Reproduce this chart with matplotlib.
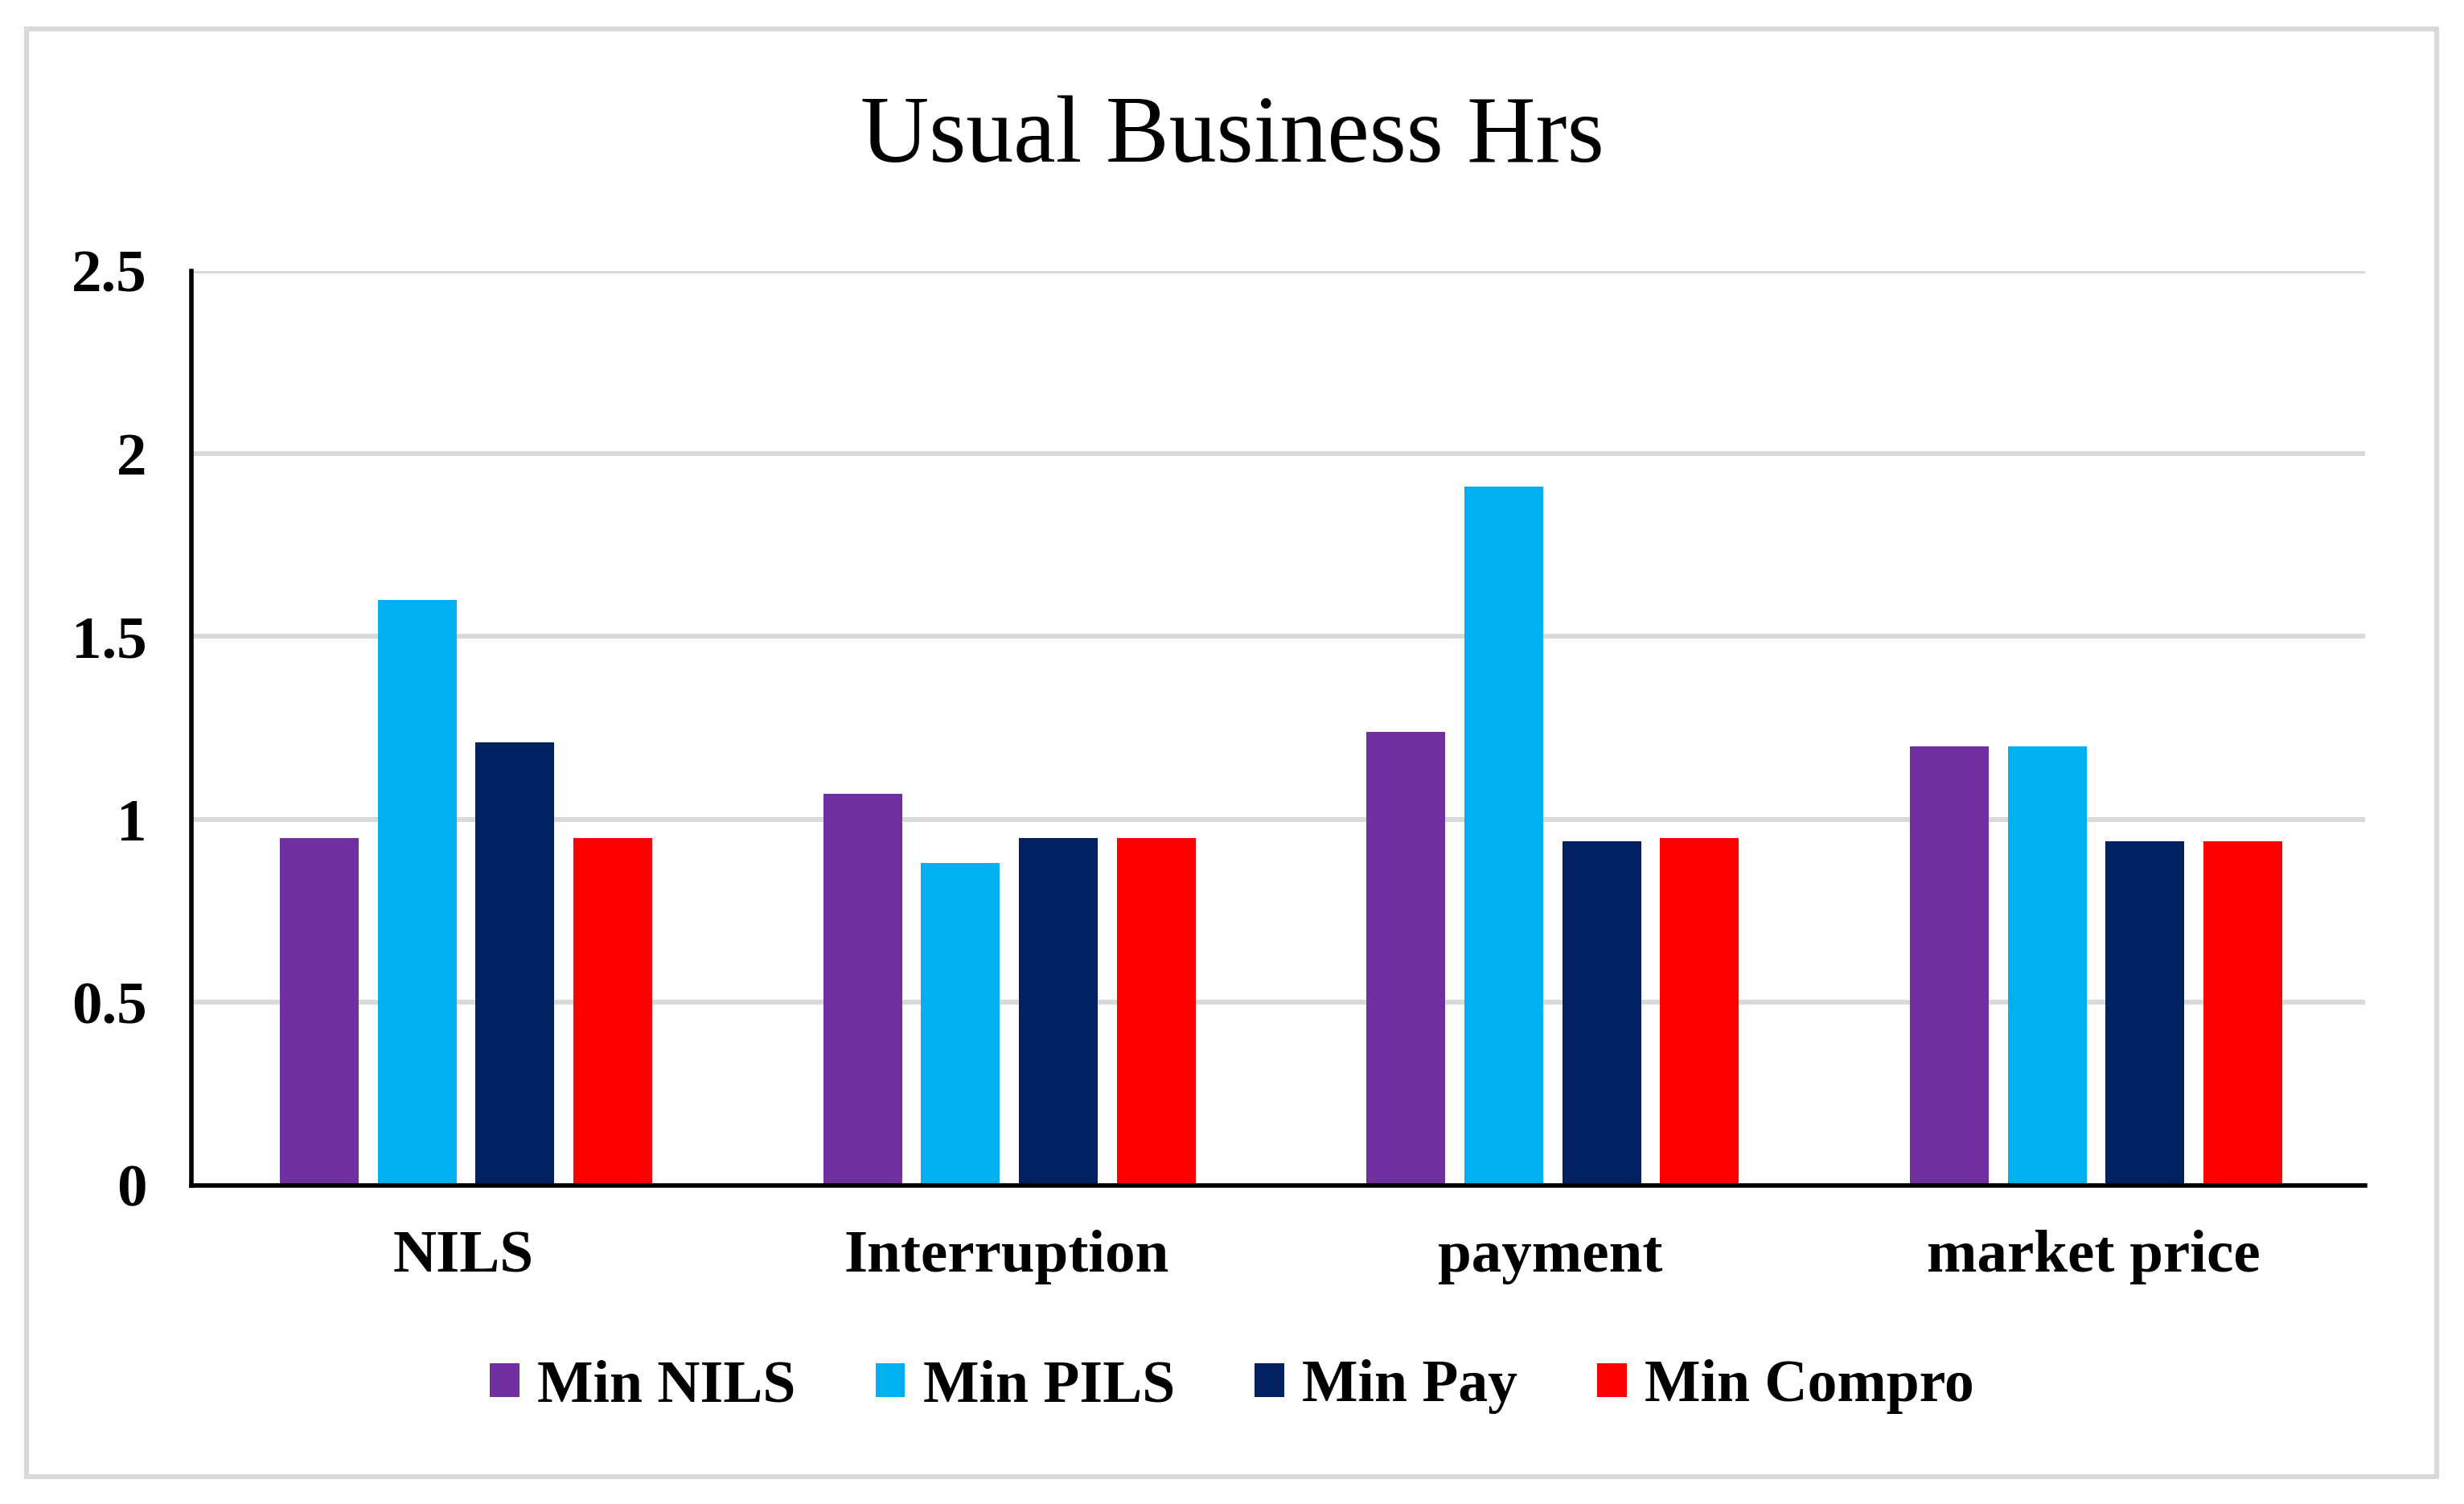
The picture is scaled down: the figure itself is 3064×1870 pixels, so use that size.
import numpy as np
import matplotlib.pyplot as plt
from matplotlib.patches import Rectangle

categories = ['NILS', 'Interruption', 'payment', 'market price']
series_names = ['Min NILS', 'Min PILS', 'Min Pay', 'Min Compro']
min_nils = [0.95, 1.07, 1.24, 1.20]
min_pils = [1.60, 0.88, 1.91, 1.20]
min_pay = [1.21, 0.95, 0.94, 0.94]
min_compro = [0.95, 0.95, 0.95, 0.94]
y_ticks = [0, 0.5, 1, 1.5, 2, 2.5]
y_tick_labels = ['0', '0.5', '1', '1.5', '2', '2.5']

colors = ['#7030A0', '#00B0F0', '#002060', '#FF0000']
series = [min_nils, min_pils, min_pay, min_compro]

plt.rcParams['font.family'] = ['Liberation Serif', 'DejaVu Serif']

fig = plt.figure(figsize=(30.64, 18.70), dpi=100)
fig.patches.append(Rectangle((0.0108, 0.018), 0.978, 0.963, transform=fig.transFigure,
                             fill=False, edgecolor='#d9d9d9', linewidth=4.5))

ax = fig.add_axes([0.0778, 0.212, 0.882, 0.608])

x = np.arange(len(categories))
w = 0.145
step = 0.18
for i, (vals, c, name) in enumerate(zip(series, colors, series_names)):
    ax.bar(x + (i - 1.5) * step + 0.005, vals, width=w, color=c, label=name, zorder=3)

ax.set_xlim(-0.5, len(categories) - 0.5)
ax.set_ylim(0, 2.5)
ax.set_yticks(y_ticks)
ax.set_yticklabels(y_tick_labels, fontsize=54, fontweight='bold')
ax.set_xticks(x)
ax.set_xticklabels(categories, fontsize=54, fontweight='bold')
ax.tick_params(axis='both', length=0)
ax.tick_params(axis='y', pad=40)
ax.tick_params(axis='x', pad=40)
ax.yaxis.grid(True, color='#d9d9d9', linewidth=4.3, zorder=0)
ax.set_axisbelow(True)
for s in ['top', 'right']:
    ax.spines[s].set_visible(False)
for s in ['left', 'bottom']:
    ax.spines[s].set_linewidth(4)
    ax.spines[s].set_color('black')
    ax.spines[s].set_zorder(4)

fig.text(0.5, 0.908, 'Usual Business Hrs', ha='center', va='center', fontsize=85)

fig.legend(loc='center', bbox_to_anchor=(0.5, 0.078), ncol=4, frameon=False,
           prop={'size': 53, 'weight': 'bold'}, handlelength=0.5, handleheight=0.5,
           handletextpad=0.3, columnspacing=1.35)

fig.savefig('out.png', dpi=100)
